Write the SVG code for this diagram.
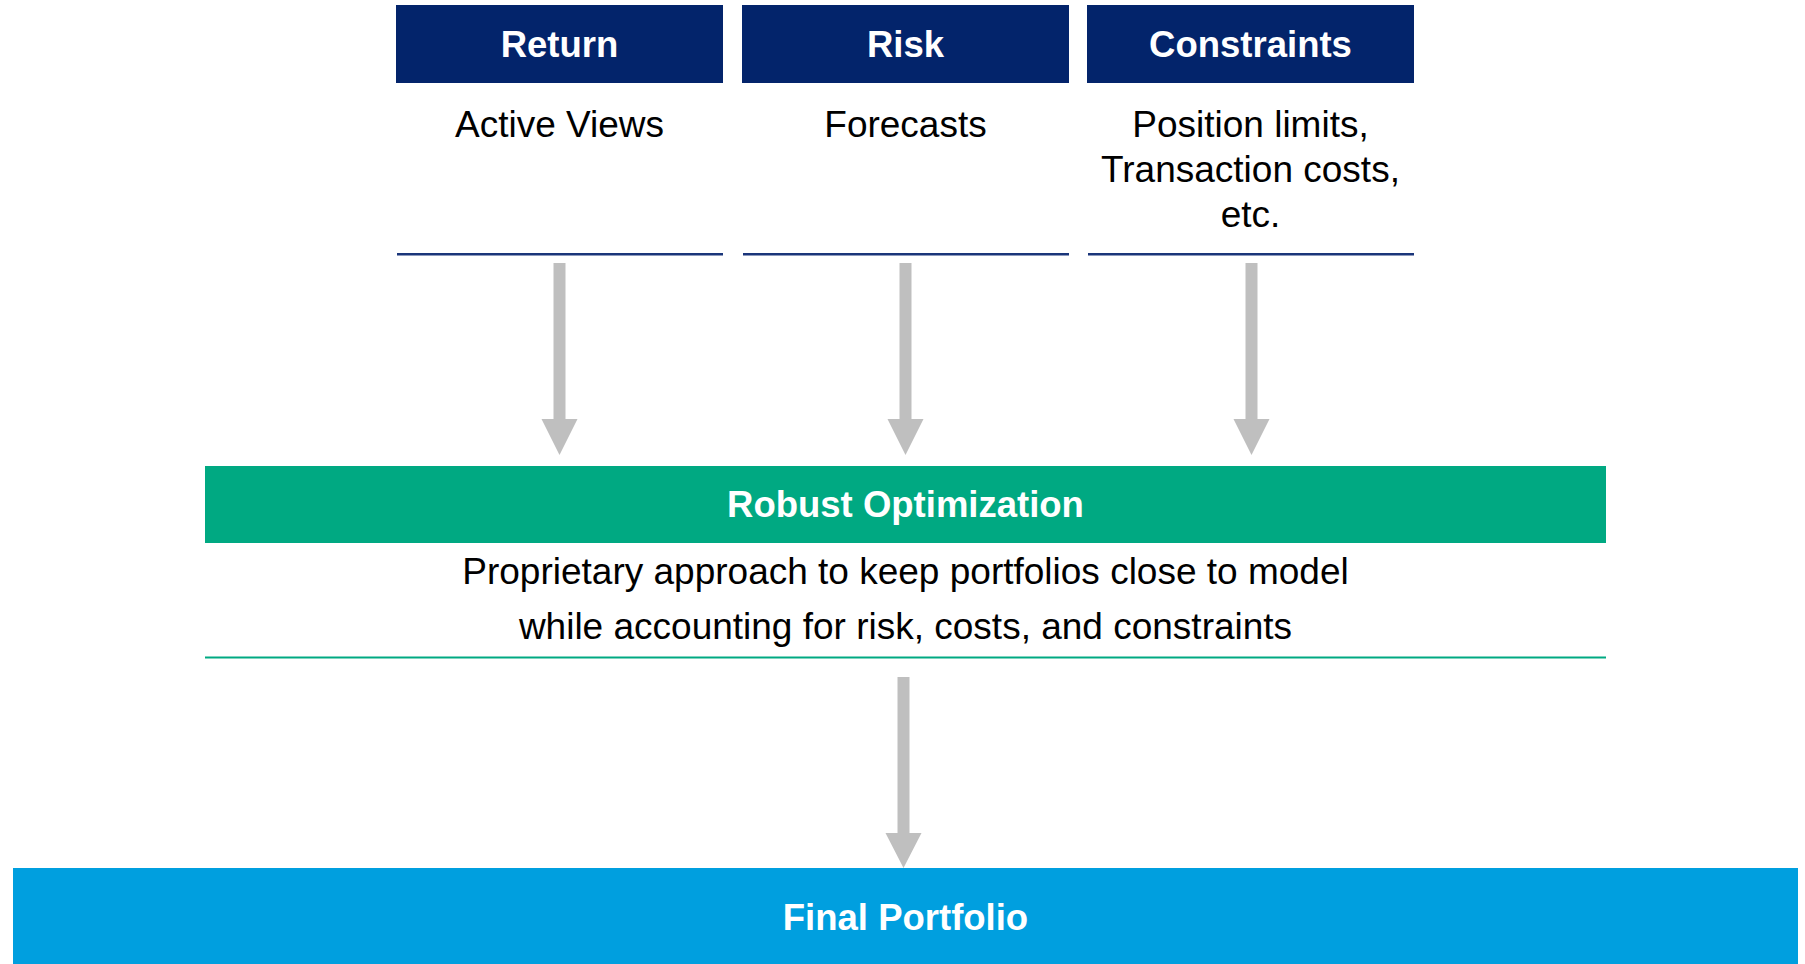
<svg xmlns="http://www.w3.org/2000/svg" width="1805" height="964" viewBox="0 0 1805 964">
<defs>
<style>
.hdr{fill:#03246B}
.hdrt{font-family:"Liberation Sans",Arial,sans-serif;font-weight:bold;font-size:36.5px;fill:#FFFFFF;text-anchor:middle}
.body{font-family:"Liberation Sans",Arial,sans-serif;font-size:37px;fill:#000000;text-anchor:middle}
.uline{fill:#1A357A}
.arrow{fill:#BFBFBF}
</style>
</defs>
<rect width="1805" height="964" fill="#FFFFFF"/>
<g id="return">
<rect class="hdr" x="396" y="5" width="327" height="78"/>
<text class="hdrt" x="559.5" y="57">Return</text>
<text class="body" x="559.5" y="137">Active Views</text>
<rect class="uline" x="397" y="253" width="326" height="2.5"/>
</g>
<g id="risk">
<rect class="hdr" x="742" y="5" width="327" height="78"/>
<text class="hdrt" x="905.5" y="57">Risk</text>
<text class="body" x="905.5" y="137">Forecasts</text>
<rect class="uline" x="743" y="253" width="326" height="2.5"/>
</g>
<g id="constraints">
<rect class="hdr" x="1087" y="5" width="327" height="78"/>
<text class="hdrt" x="1250.5" y="57">Constraints</text>
<text class="body" x="1250.5" y="137">Position limits,</text>
<text class="body" x="1250.5" y="182">Transaction costs,</text>
<text class="body" x="1250.5" y="227">etc.</text>
<rect class="uline" x="1088" y="253" width="326" height="2.5"/>
</g>
<g id="robust-optimization">
<rect x="205" y="466" width="1401" height="77" fill="#00A982"/>
<text class="hdrt" x="905.5" y="517">Robust Optimization</text>
<text class="body" x="905.5" y="584">Proprietary approach to keep portfolios close to model</text>
<text class="body" x="905.5" y="639">while accounting for risk, costs, and constraints</text>
<rect x="205" y="656.5" width="1401" height="2" fill="#00A982"/>
</g>
<g id="final-portfolio">
<rect x="13" y="868" width="1785" height="96" fill="#009FDF"/>
<text class="hdrt" x="905.5" y="930">Final Portfolio</text>
</g>
<g id="connectors">
<path class="arrow" d="M553.5,263 H565.5 V419 H577.5 L559.5,455 L541.5,419 H553.5 Z"/>
<path class="arrow" d="M899.5,263 H911.5 V419 H923.5 L905.5,455 L887.5,419 H899.5 Z"/>
<path class="arrow" d="M1245.5,263 H1257.5 V419 H1269.5 L1251.5,455 L1233.5,419 H1245.5 Z"/>
<path class="arrow" d="M897.5,677 H909.5 V833 H921.5 L903.5,868 L885.5,833 H897.5 Z"/>
</g>
</svg>
